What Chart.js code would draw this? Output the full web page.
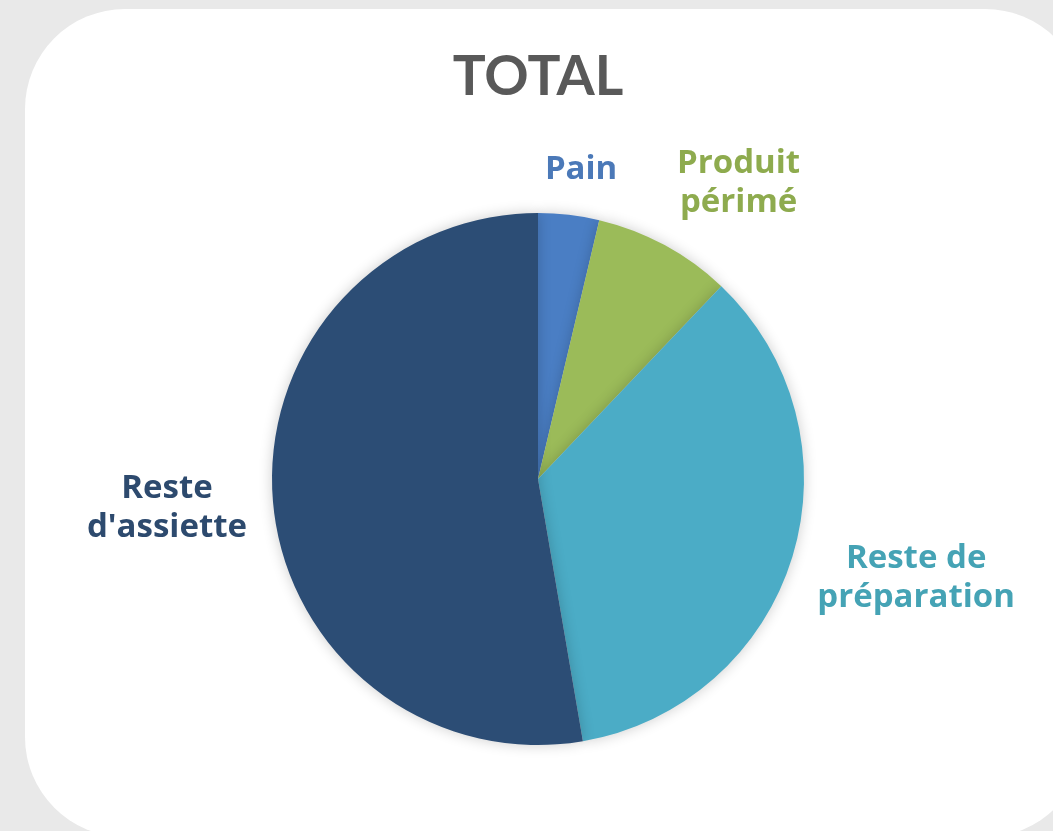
<!DOCTYPE html>
<html>
<head>
<meta charset="utf-8">
<script src="https://cdn.jsdelivr.net/npm/chart.js@4.4.1/dist/chart.umd.min.js"></script>
<style>
  html, body { margin: 0; padding: 0; width: 1053px; height: 831px; overflow: hidden; background: #e9e9e9; }
  #card { position: absolute; left: 25px; top: 9px; width: 1060px; height: 828px; background: #ffffff; border-radius: 100px; }
  #wrap { position: absolute; left: 0; top: 0; width: 1053px; height: 831px; }
</style>
</head>
<body>
<div id="card"></div>
<div id="wrap"><canvas id="c" width="1053" height="831"></canvas></div>
<script>
const titleText = "TOTAL";
const categories = ["Pain", "Produit périmé", "Reste de préparation", "Reste d'assiette"];
const labelLines = [["Pain"], ["Produit", "périmé"], ["Reste de", "préparation"], ["Reste", "d'assiette"]];
const values = [3.7, 8.4, 35.2, 52.7];
const sliceColors = ["#4a7ec4", "#9bbb59", "#4bacc6", "#2c4d75"];
const labelColors = ["#4b79b8", "#8eab4e", "#45a3b5", "#2d4a6e"];

const TITLE_FONT = "Lato, 'Open Sans', sans-serif";
const FONT = "'Open Sans', Lato, sans-serif";
const LABEL_SIZE = 33;
const LINE_H = 39;
const GAP = 26;
const KX = 2.2;
const KY = 1.2;

const shadowPlugin = {
  id: 'pieShadow',
  beforeDatasetsDraw(chart) {
    const ctx = chart.ctx;
    ctx.save();
    ctx.shadowColor = 'rgba(0,0,0,0.2)';
    ctx.shadowBlur = 14;
    ctx.shadowOffsetX = 0;
    ctx.shadowOffsetY = 0;
  },
  afterDatasetsDraw(chart) {
    chart.ctx.restore();
  }
};

function clamp1(v) { return Math.max(-1, Math.min(1, v)); }

const outsideLabels = {
  id: 'outsideLabels',
  afterDatasetsDraw(chart) {
    const ctx = chart.ctx;
    const meta = chart.getDatasetMeta(0);
    ctx.save();
    ctx.font = `bold ${LABEL_SIZE}px ${FONT}`;
    ctx.textAlign = 'center';
    ctx.textBaseline = 'middle';
    meta.data.forEach((arc, i) => {
      const p = arc.getProps(['x', 'y', 'startAngle', 'endAngle', 'outerRadius'], true);
      const mid = (p.startAngle + p.endAngle) / 2;
      const lines = labelLines[i];
      const w = Math.max(...lines.map(l => ctx.measureText(l).width));
      const h = lines.length * LINE_H;
      const cs = Math.cos(mid), sn = Math.sin(mid);
      const ax = p.x + cs * (p.outerRadius + GAP);
      const ay = p.y + sn * (p.outerRadius + GAP);
      const fx = 0.5 - 0.5 * clamp1(cs * KX);
      const fy = 0.5 - 0.5 * clamp1(sn * KY);
      const left = ax - fx * w;
      const top = ay - fy * h;
      const cx = left + w / 2;
      ctx.fillStyle = labelColors[i];
      lines.forEach((l, k) => {
        ctx.fillText(l, cx, top + LINE_H / 2 + k * LINE_H);
      });
    });
    ctx.restore();
  }
};

new Chart(document.getElementById('c'), {
  type: 'pie',
  data: {
    labels: categories,
    datasets: [{
      data: values,
      backgroundColor: sliceColors,
      borderWidth: 0,
      hoverOffset: 0
    }]
  },
  options: {
    responsive: false,
    animation: false,
    layout: { padding: { top: 0, bottom: 86, left: 272, right: 249 } },
    plugins: {
      legend: { display: false },
      tooltip: { enabled: false },
      title: {
        display: true,
        text: titleText,
        color: '#595959',
        font: { family: TITLE_FONT, size: 55, weight: 'bold', lineHeight: 1.2 },
        padding: { top: 44, bottom: 103 }
      }
    }
  },
  plugins: [shadowPlugin, outsideLabels]
});
</script>
</body>
</html>
